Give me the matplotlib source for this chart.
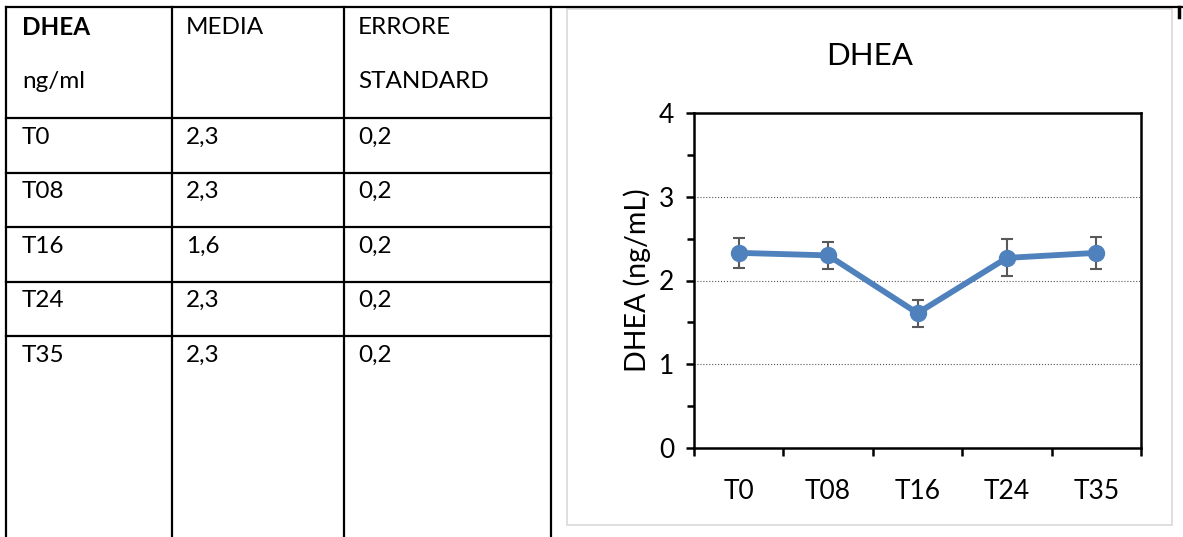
import matplotlib.pyplot as plt
from matplotlib.lines import Line2D
from matplotlib.patches import Rectangle
from matplotlib.ticker import MultipleLocator, FixedLocator

# Table contents
table_header = [['DHEA', 'ng/ml'], ['MEDIA'], ['ERRORE', 'STANDARD']]
row_labels = ['T0', 'T08', 'T16', 'T24', 'T35']
media_text = ['2,3', '2,3', '1,6', '2,3', '2,3']
errore_text = ['0,2', '0,2', '0,2', '0,2', '0,2']

# Chart data
timepoints = ['T0', 'T08', 'T16', 'T24', 'T35']
dhea_mean = [2.33, 2.30, 1.61, 2.27, 2.33]
dhea_err = [0.18, 0.16, 0.16, 0.22, 0.19]

W, H = 1183, 537
font = 'Lato'
plt.rcParams['font.family'] = [font, 'DejaVu Sans']

fig = plt.figure(figsize = (W / 100, H / 100), dpi = 100)


def fx(x):
    return x / W


def fy(y):
    return 1 - y / H


def hline(x0, x1, y, lw = 1.6, color = 'black'):
    fig.add_artist(Line2D([fx(x0), fx(x1)], [fy(y), fy(y)], color = color, lw = lw))


def vline(x, y0, y1, lw = 1.6, color = 'black'):
    fig.add_artist(Line2D([fx(x), fx(x)], [fy(y0), fy(y1)], color = color, lw = lw))


# ---- table grid ----
col_x = [6, 172, 344, 551]
row_y = [7, 118, 173, 227, 282, 336]
hline(col_x[0], W, row_y[0])
for y in row_y[1:]:
    hline(col_x[0], col_x[-1], y)
for x in col_x:
    vline(x, row_y[0], H)
vline(1179, row_y[0], 17, lw = 2.5)

# ---- table text ----
text_x = [22, 186, 358]
fs_table = 17.5
for ci, lines in enumerate(table_header):
    for li, t in enumerate(lines):
        fig.text(fx(text_x[ci]), fy(28 + li * 54), t, fontsize = fs_table,
                 fontweight = 'bold' if (ci == 0 and li == 0) else 'normal',
                 ha = 'left', va = 'center')
for ri, (lab, m, e) in enumerate(zip(row_labels, media_text, errore_text)):
    y = 137 + ri * 54.5
    for ci, t in enumerate([lab, m, e]):
        fig.text(fx(text_x[ci]), fy(y), t, fontsize = fs_table, ha = 'left', va = 'center')

# ---- chart frame ----
fig.add_artist(Rectangle((fx(567), fy(525)), fx(1172) - fx(567), fy(9) - fy(525),
                         fill = False, edgecolor = '#d9d9d9', lw = 1.2))

# ---- chart ----
ax = fig.add_axes([fx(694), fy(448), fx(1141) - fx(694), fy(113) - fy(448)])
xpos = list(range(len(timepoints)))
blue = '#4f81bd'
ax.errorbar(xpos, dhea_mean, yerr = dhea_err, fmt = 'none', ecolor = '#595959',
            elinewidth = 1.5, capsize = 4.5, capthick = 1.5, zorder = 2)
ax.plot(xpos, dhea_mean, color = blue, lw = 4.2, marker = 'o', markersize = 11.5,
        zorder = 3)

ax.set_xlim(-0.5, len(timepoints) - 0.5)
ax.set_ylim(0, 4)
ax.yaxis.set_major_locator(MultipleLocator(1))
ax.yaxis.set_minor_locator(MultipleLocator(0.5))
ax.xaxis.set_major_locator(FixedLocator([i - 0.5 for i in range(len(timepoints) + 1)]))
ax.xaxis.set_minor_locator(FixedLocator(xpos))
ax.xaxis.set_major_formatter(plt.NullFormatter())
ax.set_xticks(xpos, timepoints, minor = True)
ax.tick_params(axis = 'x', which = 'major', direction = 'out', length = 6, width = 1.8)
ax.tick_params(axis = 'x', which = 'minor', length = 0, pad = 22, labelsize = 19)
ax.tick_params(axis = 'y', which = 'major', direction = 'out', length = 6, width = 1.8,
               labelsize = 19, pad = 8)
ax.tick_params(axis = 'y', which = 'minor', direction = 'out', length = 5, width = 1.8)
for s in ax.spines.values():
    s.set_linewidth(1.8)
ax.grid(True, axis = 'y', which = 'major', linestyle = ':', color = '#555555', lw = 0.8)
ax.set_axisbelow(True)
ax.set_ylabel('DHEA (ng/mL)', fontsize = 20.5, labelpad = 6)

fig.text(fx(870), fy(56), 'DHEA', fontsize = 22.5, ha = 'center', va = 'center')

fig.savefig('out.png', dpi = 100)
